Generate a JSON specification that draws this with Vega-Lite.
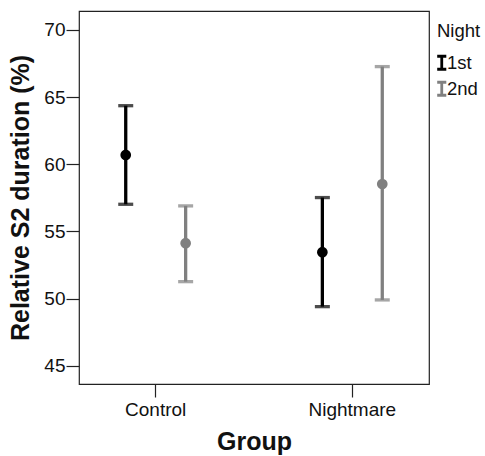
{
  "$schema": "https://vega.github.io/schema/vega-lite/v6.json",
  "autosize": {"type": "none"},
  "width": 350,
  "height": 373,
  "padding": {"left": 79, "top": 11, "right": 56, "bottom": 72},
  "background": "white",
  "config": {
    "font": "Liberation Sans",
    "view": {"stroke": "#222", "strokeWidth": 1.2},
    "axis": {"grid": false, "domain": false, "tickColor": "#222", "tickWidth": 1.2, "labelColor": "#111", "titleColor": "#111", "labelFont": "Liberation Sans", "titleFont": "Liberation Sans"}
  },
  "data": {
    "values": [
      {"Group": "Control", "Night": "1st", "mean": 60.69, "lower": 57.02, "upper": 64.36},
      {"Group": "Control", "Night": "2nd", "mean": 54.12, "lower": 51.26, "upper": 56.9},
      {"Group": "Nightmare", "Night": "1st", "mean": 53.45, "lower": 49.4, "upper": 57.52},
      {"Group": "Nightmare", "Night": "2nd", "mean": 58.53, "lower": 49.9, "upper": 67.27}
    ]
  },
  "encoding": {
    "x": {
      "field": "Group", "type": "nominal",
      "scale": {"paddingInner": 0.22, "paddingOuter": 0},
      "axis": {"title": "Group", "labelAngle": 0, "labelFontSize": 19, "titleFontSize": 25, "titleFontWeight": "bold", "tickSize": 13, "labelPadding": 3, "titlePadding": 10}
    },
    "xOffset": {"field": "Night", "type": "nominal", "scale": {"paddingInner": 0, "paddingOuter": 0.28}},
    "color": {
      "field": "Night", "type": "nominal",
      "scale": {"domain": ["1st", "2nd"], "range": ["#000000", "#808080"]}
    }
  },
  "layer": [
    {
      "mark": {"type": "rule", "strokeWidth": 3.3},
      "encoding": {
        "y": {
          "field": "lower", "type": "quantitative",
          "scale": {"domain": [43.64, 71.41], "nice": false, "zero": false},
          "axis": {"title": "Relative S2 duration (%)", "values": [45, 50, 55, 60, 65, 70], "labelFontSize": 19, "titleFontSize": 25, "titleFontWeight": "bold", "tickSize": 13, "labelPadding": 1, "titlePadding": 10}
        },
        "y2": {"field": "upper"},
        "color": {
          "field": "Night", "type": "nominal",
          "legend": {
            "title": "Night", "orient": "none", "legendX": 358, "legendY": 11,
            "titleFontSize": 18.5, "titleFontWeight": "normal", "titleColor": "#111",
            "labelFontSize": 18.5, "labelColor": "#111", "labelOffset": -4,
            "symbolType": "M-0.7,-1H0.7M0,-1V1M-0.7,1H0.7",
            "symbolSize": 169, "symbolStrokeWidth": 2.8, "symbolOffset": -4.5, "rowPadding": 1, "titlePadding": 13
          }
        }
      }
    },
    {
      "mark": {"type": "tick", "thickness": 3.3, "size": 15, "orient": "horizontal"},
      "encoding": {"y": {"field": "lower", "type": "quantitative"}, "color": {"field": "Night", "type": "nominal", "legend": null}}
    },
    {
      "mark": {"type": "tick", "thickness": 3.3, "size": 15, "orient": "horizontal"},
      "encoding": {"y": {"field": "upper", "type": "quantitative"}, "color": {"field": "Night", "type": "nominal", "legend": null}}
    },
    {
      "mark": {"type": "point", "filled": true, "size": 115, "opacity": 1},
      "encoding": {"y": {"field": "mean", "type": "quantitative"}, "color": {"field": "Night", "type": "nominal", "legend": null}}
    }
  ]
}
